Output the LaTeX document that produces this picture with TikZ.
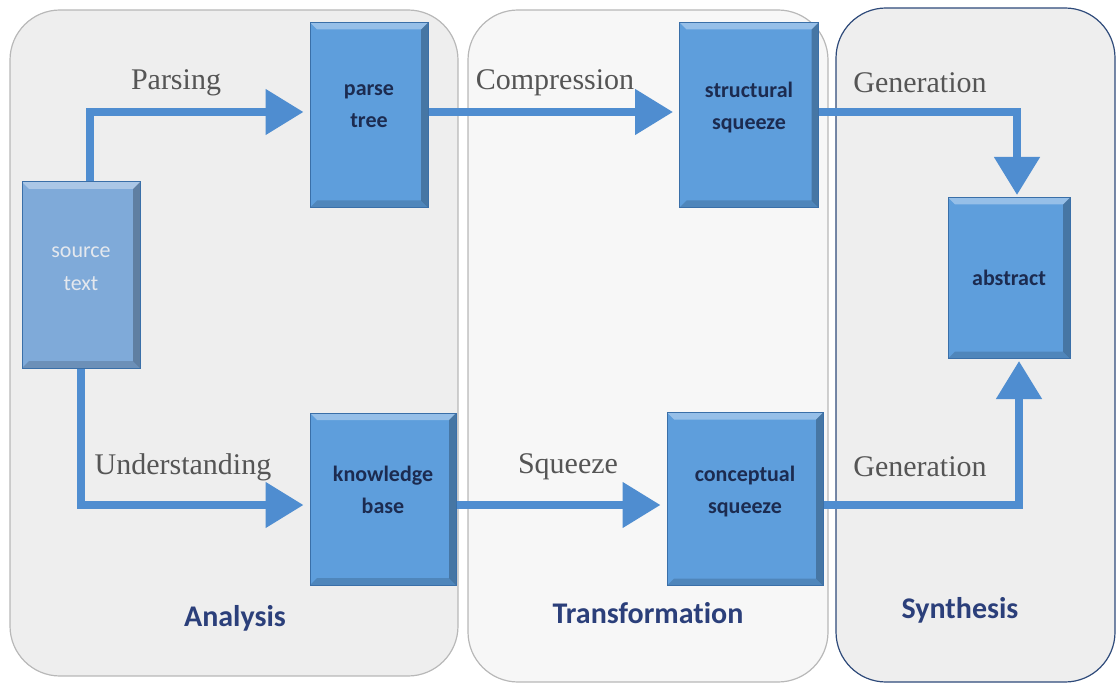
\documentclass[tikz,border=0pt]{standalone}
\usepackage{fontspec}
\setmainfont{Liberation Serif}
\newfontfamily\calib[Ligatures={NoCommon}]{Carlito}
\usetikzlibrary{arrows.meta,calc}
\definecolor{panelA}{HTML}{EEEEEE}
\definecolor{panelB}{HTML}{F7F7F7}
\definecolor{panelEdge}{HTML}{B8B8B8}
\definecolor{synEdge}{HTML}{2E4A7A}
\definecolor{boxFill}{HTML}{5E9EDC}
\definecolor{boxEdge}{HTML}{3A6FA8}
\definecolor{srcFill}{HTML}{7FAAD9}
\definecolor{srcText}{HTML}{E4E8EE}
\definecolor{boxText}{HTML}{1C2B50}
\definecolor{arrowCol}{HTML}{4F8DD0}
\definecolor{labelGray}{HTML}{555555}
\definecolor{titleBlue}{HTML}{2B3F7A}
\begin{document}
\begin{tikzpicture}[x=1pt,y=-1pt,
  panel/.style={rounded corners=50pt, line width=1.2pt},
  blockbox/.style={draw=boxEdge, fill=boxFill, line width=1pt, minimum width=#1, inner sep=2pt,
    font=\calib\bfseries\fontsize{22}{32}\selectfont, text=boxText, align=center, text depth=18pt,
    path picture={
      \fill[white,opacity=0.35] (path picture bounding box.north west) -- (path picture bounding box.north east)
        -- ([xshift=-7pt,yshift=-7pt]path picture bounding box.north east) -- ([xshift=7pt,yshift=-7pt]path picture bounding box.north west) -- cycle;
      \fill[black,opacity=0.25] (path picture bounding box.north east) -- (path picture bounding box.south east)
        -- ([xshift=-7pt,yshift=7pt]path picture bounding box.south east) -- ([xshift=-7pt,yshift=-7pt]path picture bounding box.north east) -- cycle;
      \fill[black,opacity=0.15] (path picture bounding box.south west) -- (path picture bounding box.south east)
        -- ([xshift=-7pt,yshift=7pt]path picture bounding box.south east) -- ([xshift=7pt,yshift=7pt]path picture bounding box.south west) -- cycle;
    }},
  flowarrow/.style={draw=arrowCol, line width=8pt, -{Triangle[length=38pt,width=44pt]}, shorten >=6pt},
  steplabel/.style={font=\fontsize{30}{34}\selectfont, text=labelGray},
  paneltitle/.style={font=\calib\bfseries\fontsize{30}{34}\selectfont, text=titleBlue}
]
\useasboundingbox (0,0) rectangle (1118,684);
% panels
\draw[panel, fill=panelA, draw=panelEdge] (10,10) rectangle (458,676);
\draw[panel, fill=panelB, draw=panelEdge] (468,10) rectangle (828,682);
\draw[panel, fill=panelA, draw=synEdge] (836,8) rectangle (1115,682);
% boxes
\node[blockbox=118pt, minimum height=186pt, fill=srcFill, text=srcText, font=\calib\fontsize{22}{33}\selectfont, text depth=12pt] (src) at (81,275) {source\\text};
\node[blockbox=118pt, minimum height=185pt] (parse) at (369,115) {parse\\tree};
\node[blockbox=146pt, minimum height=172pt] (kb) at (383,499) {knowledge\\base};
\node[blockbox=139pt, minimum height=185pt] (struct) at (749,115) {structural\\squeeze};
\node[blockbox=156pt, minimum height=173pt] (concept) at (745,499) {conceptual\\squeeze};
\node[blockbox=122pt, minimum height=161pt, text depth=0pt] (abstract) at (1009,278) {abstract};
% arrows
\draw[flowarrow] ([xshift=9pt]src.north) |- ([yshift=3pt]parse.west);
\draw[flowarrow] (src.south) |- ([yshift=-6pt]kb.west);
\draw[flowarrow] ([yshift=3pt]parse.east) -- ([yshift=3pt]struct.west);
\draw[flowarrow] ([yshift=-6pt]kb.east) -- ([yshift=-6pt]concept.west);
\draw[flowarrow, shorten >=2pt] ([yshift=3pt]struct.east) -| ([xshift=8pt]abstract.north);
\draw[flowarrow, shorten >=2pt] ([yshift=-6pt]concept.east) -| ([xshift=10pt]abstract.south);
% labels
\node[steplabel] (lparse) at (176,83) {Parsing};
\node[steplabel] (lcomp) at (555,83) {Compression};
\node[steplabel] (lgen1) at (920,83) {Generation};
\node[steplabel] (lund) at (183,467) {Understanding};
\node[steplabel] (lsq) at (568,467) {Squeeze};
\node[steplabel] (lgen2) at (920,467) {Generation};
\node[paneltitle] (tA) at (235,618) {Analysis};
\node[paneltitle] (tT) at (648,613) {Transformation};
\node[paneltitle] (tS) at (960,610) {Synthesis};
\end{tikzpicture}
\end{document}
